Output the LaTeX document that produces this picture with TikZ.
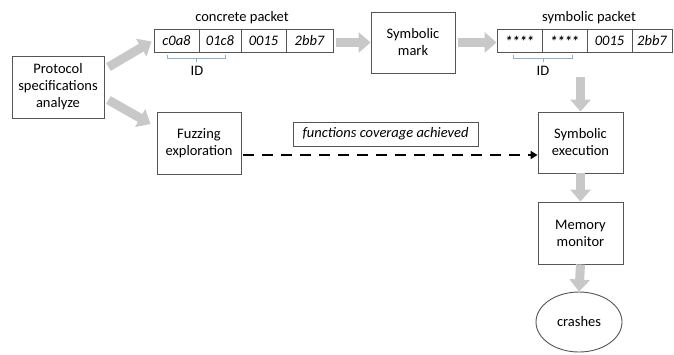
\documentclass[tikz,border=0pt]{standalone}
\usepackage{fontspec}
\setmainfont{Carlito}
\usetikzlibrary{arrows.meta,calc,shapes.geometric}
\definecolor{agray}{RGB}{200,200,200}
\definecolor{bline}{RGB}{85,85,85}
\definecolor{idblue}{RGB}{140,175,215}
\begin{document}
\begin{tikzpicture}[x=1pt,y=-1pt,
  font=\fontsize{14.5}{17}\selectfont,
  box/.style={draw=bline, line width=0.9pt, align=center, inner sep=0pt},
  cell/.style={draw=bline, line width=0.9pt, minimum height=23pt, inner sep=0pt, font=\fontsize{14.5}{17}\selectfont\itshape},
  garrow/.style={draw=agray, line width=9pt, -{Triangle[width=20pt,length=12pt]}},
  dasharrow/.style={draw=black, line width=2.4pt, dash pattern=on 11pt off 8pt, -{Triangle[width=8pt,length=7pt]}},
  idbrace/.style={draw=idblue, line width=0.8pt},
  title/.style={inner sep=0pt}]
\useasboundingbox (0,0) rectangle (674,354);

% boxes
\node[box, minimum width=92pt, minimum height=62pt] (proto) at (58,87) {Protocol\\specifications\\analyze};
\node[box, minimum width=84pt, minimum height=62pt] (fuzz) at (199,143) {Fuzzing\\exploration};
\node[box, minimum width=84pt, minimum height=61pt] (symmark) at (413,42.5) {Symbolic\\mark};
\node[box, minimum width=85pt, minimum height=61pt] (symexec) at (580.5,142.5) {Symbolic\\execution};
\node[box, minimum width=85pt, minimum height=62pt] (memory) at (580.5,233) {Memory\\monitor};
\node[box, ellipse, minimum width=86pt, minimum height=60pt] (crashes) at (579,322) {crashes};
\node[box, minimum width=185pt, minimum height=24pt, font=\fontsize{14.5}{17}\selectfont\itshape] (lbl) at (385.5,134) {functions coverage achieved};

% concrete packet
\node[title] (ctitle) at (242,18) {concrete packet};
\node[cell, minimum width=45pt] (c1) at (176.5,40.5) {c0a8};
\node[cell, minimum width=42pt] (c2) at (220,40.5) {01c8};
\node[cell, minimum width=45pt] (c3) at (263.5,40.5) {0015};
\node[cell, minimum width=47pt] (c4) at (309.5,40.5) {2bb7};
\draw[idbrace] (167,55) -- (167,58) -- (225,58) -- (225,55) (196,58) -- (196,62);
\node[title] (cid) at (197,71) {ID};

% symbolic packet
\node[title] (stitle) at (589,18) {symbolic packet};
\node[cell, minimum width=45pt] (s1) at (519.5,41) {\textbf{****}};
\node[cell, minimum width=45pt] (s2) at (564.5,41) {\textbf{****}};
\node[cell, minimum width=45pt] (s3) at (609.5,41) {0015};
\node[cell, minimum width=40pt] (s4) at (652,41) {2bb7};
\draw[idbrace] (513,55) -- (513,58) -- (572,58) -- (572,55) (543,58) -- (543,62);
\node[title] (sid) at (543,71) {ID};

% gray arrows
\draw[garrow] ($(proto.east)+(4,-20)$) -- ($(c1.west)+(-2,1)$);
\draw[garrow] ($(proto.east)+(4,13)$) -- ($(fuzz.west)+(-6,-19)$);
\draw[garrow] ($(c4.east |- symmark.west)+(3,0)$) -- (symmark.west);
\draw[garrow] ($(symmark.east)+(3,0)$) -- (symmark.east -| s1.west);
\draw[garrow] ($(symexec.north)+(0,-35)$) -- (symexec.north);
\draw[garrow] (symexec.south) -- (memory.north);
\draw[garrow] (memory.south) -- (crashes.north);

% dashed arrow
\coordinate (ds) at ($(fuzz.east)+(2,12)$);
\draw[dasharrow] (ds) -- (ds -| symexec.west);
\end{tikzpicture}
\end{document}
